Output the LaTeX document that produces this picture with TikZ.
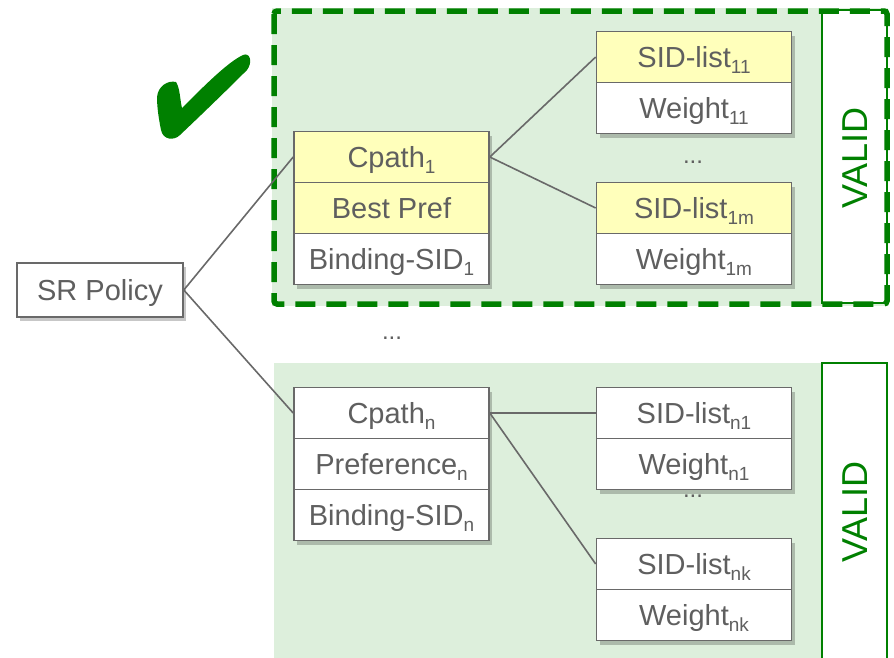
\documentclass[tikz,border=0pt]{standalone}
\usepackage{fontspec}
\setmainfont{Liberation Sans}
\usetikzlibrary{shadows}
\definecolor{boxgray}{RGB}{105,105,105}
\definecolor{txtgray}{RGB}{95,95,95}
\definecolor{yel}{RGB}{255,255,187}
\definecolor{lgreen}{RGB}{221,239,220}
\definecolor{dgreen}{RGB}{0,128,0}
\newcommand{\lowidx}[1]{\raisebox{-6pt}{\fontsize{19}{19}\selectfont #1}}
\tikzset{
  cell/.style={draw=boxgray, line width=1.6pt, minimum width=195pt, minimum height=51pt,
    inner sep=0pt, text=txtgray, font=\fontsize{29}{29}\selectfont, anchor=center,
    text height=26pt, text depth=6pt,
    drop shadow={shadow xshift=3pt, shadow yshift=-4pt, opacity=0.22, fill=black}},
  ycell/.style={cell, fill=yel},
  wcell/.style={cell, fill=white},
  conn/.style={draw=boxgray, line width=1.6pt},
  dots/.style={text=txtgray, font=\fontsize{24}{24}\selectfont, inner sep=0pt,
    text height=4pt, text depth=0pt, anchor=base},
  validbox/.style={draw=dgreen, line width=1.6pt, fill=white},
  validtxt/.style={text=dgreen, font=\fontsize{36}{36}\selectfont, rotate=90, inner sep=0pt},
}
\begin{document}
\begin{tikzpicture}[x=1pt,y=-1pt]
\useasboundingbox (0,0) rectangle (894,657);
% green backgrounds
\fill[lgreen] (272,8) rectangle (888,306);
\fill[lgreen] (274,363) rectangle (821,660);
% VALID boxes
\draw[validbox] (822,10) rectangle (887,303);
\node[validtxt] (v1) at (855,158) {VALID};
\draw[validbox] (822,363) rectangle (887,670);
\node[validtxt] (v2) at (855,512) {VALID};
% dashed frame
\draw[dgreen, line width=5.5pt, dash pattern=on 20pt off 11pt, rounded corners=3pt] (274,11) rectangle (887,304);
% check mark
\fill[dgreen] (157,97) .. controls (158,86) and (168,80) .. (176,82)
  .. controls (180,88) and (180,100) .. (182,108)
  .. controls (205,85) and (228,62) .. (243,55)
  .. controls (250,52) and (253,62) .. (247,70)
  .. controls (225,92) and (198,118) .. (180,135)
  .. controls (174,141) and (163,140) .. (161,130)
  .. controls (159,120) and (157,108) .. (157,97) -- cycle;
% dots
\node[dots] (d1) at (693,163) {...};
\node[dots] (d2) at (392,339) {...};
\node[dots] (d3) at (693,497) {...};
% boxes
\node[wcell, minimum width=166pt, minimum height=54pt] (sr) at (100,290) {SR Policy};
\node[ycell] (c1) at (391.5,157) {Cpath\lowidx{1}};
\node[ycell] (bp) at (391.5,208) {Best Pref};
\node[wcell] (b1) at (391.5,259) {Binding-SID\lowidx{1}};
\node[ycell] (s11) at (694,57) {SID-list\lowidx{11}};
\node[wcell] (w11) at (694,108) {Weight\lowidx{11}};
\node[ycell] (s1m) at (694,208) {SID-list\lowidx{1m}};
\node[wcell] (w1m) at (694,259) {Weight\lowidx{1m}};
\node[wcell] (cn) at (391.5,413) {Cpath\lowidx{n}};
\node[wcell] (pn) at (391.5,464) {Preference\lowidx{n}};
\node[wcell] (bn) at (391.5,515) {Binding-SID\lowidx{n}};
\node[wcell] (sn1) at (694,413) {SID-list\lowidx{n1}};
\node[wcell] (wn1) at (694,464) {Weight\lowidx{n1}};
\node[wcell] (snk) at (694,564) {SID-list\lowidx{nk}};
\node[wcell] (wnk) at (694,615) {Weight\lowidx{nk}};
% connectors
\draw[conn] (sr.east) -- (c1.west);
\draw[conn] (sr.east) -- (cn.west);
\draw[conn] (c1.east) -- (s11.west);
\draw[conn] (c1.east) -- (s1m.west);
\draw[conn] (cn.east) -- (sn1.west);
\draw[conn] (cn.east) -- (snk.west);
\end{tikzpicture}
\end{document}
